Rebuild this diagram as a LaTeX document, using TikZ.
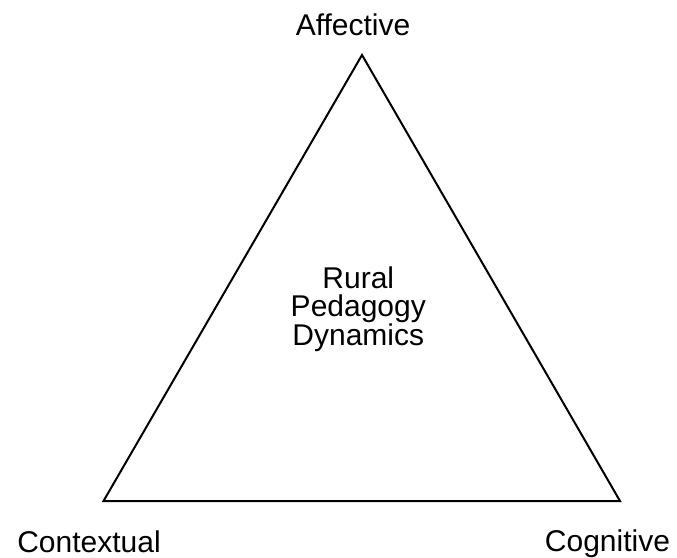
\documentclass[tikz,border=0pt]{standalone}
\usepackage{fontspec}
\setmainfont{Liberation Sans}
\begin{document}
\begin{tikzpicture}[x=1pt,y=-1pt,
  lbl/.style={font=\fontsize{30}{28.5}\selectfont, inner sep=0pt, anchor=base},
  edge/.style={line width=2pt, line join=miter}]
\useasboundingbox (0,0) rectangle (677,557);
\coordinate (A) at (362,55);
\coordinate (L) at (103.5,501);
\coordinate (R) at (620,501);
\draw[edge] (A) -- (L) -- (R) -- cycle;
\node[lbl] (affective) at (353,35) {Affective};
\node[lbl] (contextual) at (89,552) {Contextual};
\node[lbl] (cognitive) at (607.5,551) {Cognitive};
\node[lbl, align=center, anchor=north] (center) at (358.3,266.4) {Rural\\Pedagogy\\Dynamics};
\end{tikzpicture}
\end{document}
